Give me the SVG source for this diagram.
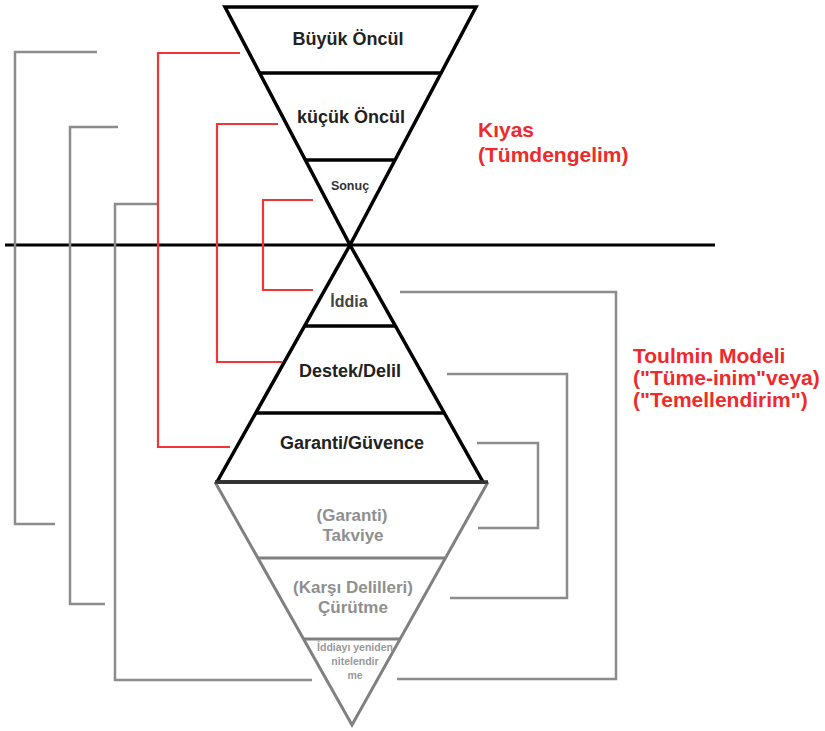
<svg xmlns="http://www.w3.org/2000/svg" width="825" height="731" viewBox="0 0 825 731">
<style>
.blk{fill:none;stroke:#000;stroke-width:3.5;stroke-linejoin:miter}
.gry{fill:none;stroke:#808080;stroke-width:3}
.con-g{fill:none;stroke:#8c8c8c;stroke-width:2.5}
.con-r{fill:none;stroke:#f03535;stroke-width:2.2}
.t{font-family:"Liberation Sans",Arial,sans-serif;font-weight:bold;text-anchor:middle}
.tb{fill:#222;font-size:18px}
.tg{fill:#8f8f8f;font-size:17px}
.ts{fill:#999;font-size:10.5px}
.tr{font-family:"Liberation Sans",Arial,sans-serif;font-weight:bold;fill:#ee2a2a;font-size:21px}
</style>
<rect width="825" height="731" fill="#fff"/>
<g id="connectors">
<line x1="5" y1="245" x2="715" y2="245" stroke="#000" stroke-width="3"/>
<polyline class="con-g" points="97,52 15,52 15,524 55,524"/>
<polyline class="con-g" points="118,127 70,127 70,604 105,604"/>
<polyline class="con-g" points="158,204 115,204 115,680 312,680"/>
<polyline class="con-r" points="240,53 158,53 158,447 230,447"/>
<polyline class="con-r" points="278,124 217,124 217,362 282,362"/>
<polyline class="con-r" points="313,200 263,200 263,290 313,290"/>
<polyline class="con-g" points="400,292 616,292 616,679 397,679"/>
<polyline class="con-g" points="447,374 567,374 567,598 450,598"/>
<polyline class="con-g" points="477,443 538,443 538,528 478,528"/>
</g>
<g id="kiyas">
<polygon class="blk" points="225,7 476,7 350,245"/>
<line class="blk" x1="259.7" y1="73" x2="441.1" y2="73" stroke-width="3"/>
<line class="blk" x1="305.4" y1="160" x2="395" y2="160" stroke-width="3"/>
</g>
<g id="buyuk-oncul"><text class="t tb" x="348" y="45">Büyük Öncül</text></g>
<g id="kucuk-oncul"><text class="t tb" x="351" y="123">küçük Öncül</text></g>
<g id="sonuc"><text class="t" x="350" y="190" font-size="12.5" fill="#333">Sonuç</text></g>
<g id="toulmin-black">
<polygon class="blk" points="350,245 483,482 217,482"/>
<line class="blk" x1="304.5" y1="326" x2="395.5" y2="326" stroke-width="3"/>
<line class="blk" x1="255.7" y1="413" x2="444.3" y2="413" stroke-width="3"/>
</g>
<g id="iddia"><text class="t" x="349" y="307" font-size="16" fill="#444">İddia</text></g>
<g id="destek"><text class="t tb" x="350" y="377">Destek/Delil</text></g>
<g id="garanti"><text class="t tb" x="352" y="449">Garanti/Güvence</text></g>
<g id="toulmin-gray">
<polyline class="gry" points="215,482 352,725 488,482"/>
<line class="gry" x1="257.8" y1="558" x2="445.5" y2="558"/>
<line class="gry" x1="303.5" y1="639" x2="400.1" y2="639"/>
<line x1="215" y1="482" x2="488" y2="482" stroke="#333" stroke-width="3.5"/>
</g>
<g id="takviye"><text class="t tg" x="352" y="521">(Garanti)</text><text class="t tg" x="353" y="541">Takviye</text></g>
<g id="curutme"><text class="t tg" x="353" y="593">(Karşı Delilleri)</text><text class="t tg" x="353" y="613">Çürütme</text></g>
<g id="nitelendirme"><text class="t ts" x="355" y="651">İddiayı yeniden</text><text class="t ts" x="355" y="665">nitelendir</text><text class="t ts" x="355" y="679">me</text></g>
<g id="label-kiyas"><text class="tr" x="478" y="137">Kıyas</text><text class="tr" x="478" y="162">(Tümdengelim)</text></g>
<g id="label-toulmin"><text class="tr" x="633" y="363">Toulmin Modeli</text><text class="tr" x="633" y="385">("Tüme-inim"veya)</text><text class="tr" x="633" y="407">("Temellendirim")</text></g>
</svg>
